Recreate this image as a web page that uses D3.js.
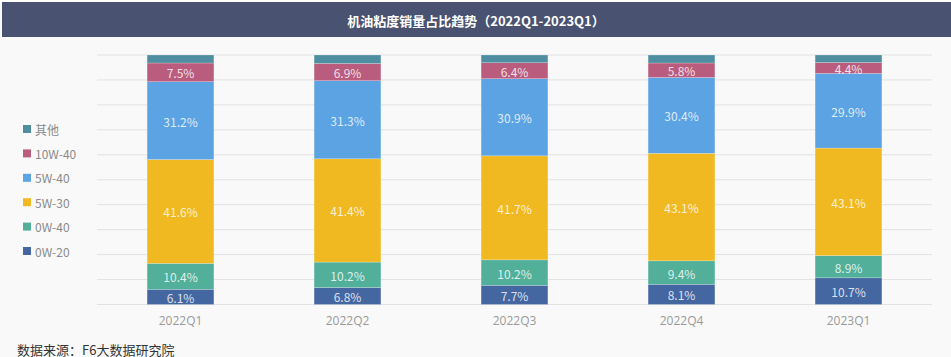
<!DOCTYPE html>
<html><head><meta charset="utf-8">
<script src="https://cdn.jsdelivr.net/npm/d3@7"></script>
<style>
html,body{margin:0;padding:0;background:#f9f9f9;}
svg{display:block;font-family:"Noto Sans CJK SC","Open Sans",sans-serif;}
</style></head>
<body><svg id="c" width="951" height="357"></svg>
<script>
const categories = ["2022Q1","2022Q2","2022Q3","2022Q4","2023Q1"];
const seriesNames = ["0W-20","0W-40","5W-30","5W-40","10W-40","其他"];
const s0W20 = [6.1,6.8,7.7,8.1,10.7];
const s0W40 = [10.4,10.2,10.2,9.4,8.9];
const s5W30 = [41.6,41.4,41.7,43.1,43.1];
const s5W40 = [31.2,31.3,30.9,30.4,29.9];
const s10W40 = [7.5,6.9,6.4,5.8,4.4];
const sOther = [3.2,3.4,3.1,3.2,3.0];
const yTicks = [0,10,20,30,40,50,60,70,80,90,100];
const colors = ["#4467a2","#52b09a","#f0b922","#5ba3e2","#b95c7e","#4f8ea1"];
const showLabel = [true,true,true,true,true,false];
const title = "机油粘度销量占比趋势（2022Q1-2023Q1）";
const source = "数据来源：F6大数据研究院";

const seriesVals = [s0W20,s0W40,s5W30,s5W40,s10W40,sOther];
const rows = categories.map((c,i)=>{const o={cat:c}; seriesNames.forEach((n,j)=>o[n]=seriesVals[j][i]); return o;});
const stacked = d3.stack().keys(seriesNames)(rows);

const svg = d3.select("#c");
svg.append("rect").attr("x",0).attr("y",0).attr("width",951).attr("height",357).attr("fill","#f9f9f9");
svg.append("rect").attr("x",0).attr("y",0).attr("width",951).attr("height",2).attr("fill","#ffffff");
svg.append("rect").attr("x",2).attr("y",2).attr("width",949).attr("height",35).attr("fill","#495270");
svg.append("text").attr("x",476).attr("y",20).attr("text-anchor","middle").attr("dominant-baseline","central")
  .attr("fill","#ffffff").attr("font-size",13).attr("font-weight","bold").text(title);

const x = d3.scaleBand().domain(categories).range([97,932]).paddingInner(0.6).paddingOuter(0.3);
const y = d3.scaleLinear().domain([0,100]).range([304.5,55]);

svg.append("g").selectAll("line").data(yTicks).join("line")
  .attr("x1",97).attr("x2",932).attr("y1",d=>y(d)).attr("y2",d=>y(d))
  .attr("stroke","#e2e2e2").attr("stroke-width",1);

const layer = svg.append("g").selectAll("g").data(stacked).join("g").attr("fill",(d,i)=>colors[i]);
layer.selectAll("rect").data(d=>d).join("rect")
  .attr("x",d=>x(d.data.cat)).attr("width",x.bandwidth())
  .attr("y",d=>y(d[1])).attr("height",d=>y(d[0])-y(d[1]))
  .attr("stroke","rgba(255,255,255,0.35)").attr("stroke-width",0.6);

stacked.forEach((s,i)=>{
  if(!showLabel[i]) return;
  svg.append("g").selectAll("text").data(s).join("text")
    .attr("x",d=>x(d.data.cat)+x.bandwidth()/2)
    .attr("y",d=>(y(d[0])+y(d[1]))/2+0.5)
    .attr("text-anchor","middle").attr("dominant-baseline","central")
    .attr("fill","rgba(255,255,255,0.82)").attr("font-size",12)
    .text(d=>(d[1]-d[0]).toFixed(1)+"%");
});

const xAxis = svg.append("g").attr("transform","translate(0,304.5)").call(d3.axisBottom(x).tickSize(0).tickPadding(12));
xAxis.select(".domain").remove();
xAxis.selectAll("text").attr("fill","#9a9a9a").attr("font-size",12).attr("font-family","\"Open Sans\",\"Noto Sans CJK SC\",sans-serif");

const legendOrder = [5,4,3,2,1,0];
const lg = svg.append("g").selectAll("g").data(legendOrder).join("g")
  .attr("transform",(d,i)=>`translate(23,${129+i*24.4})`);
lg.append("rect").attr("x",0).attr("y",-4).attr("width",8).attr("height",8).attr("fill",d=>colors[d]);
lg.append("text").attr("x",12).attr("y",0).attr("dominant-baseline","central")
  .attr("fill","#8a8a8a").attr("font-size",12).text(d=>seriesNames[d]);

svg.append("text").attr("x",17).attr("y",349).attr("dominant-baseline","central")
  .attr("fill","#333").attr("font-size",13).text(source);
</script></body></html>
